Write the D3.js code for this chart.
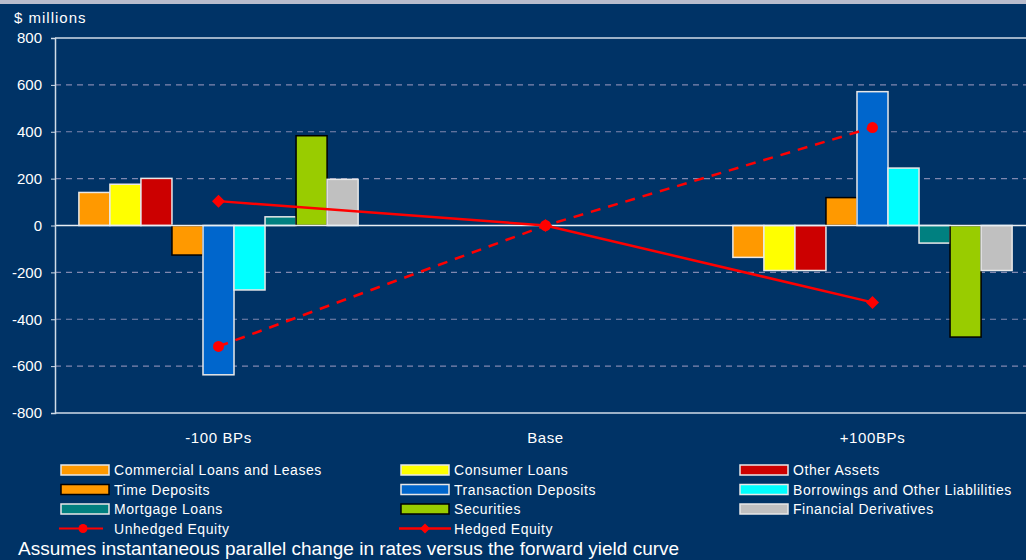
<!DOCTYPE html>
<html>
<head>
<meta charset="utf-8">
<script src="https://cdn.jsdelivr.net/npm/d3@7"></script>
<style>
  body { margin: 0; background: #003366; }
  svg { display: block; }
  text { font-family: "Liberation Sans", Arial, sans-serif; fill: #ffffff; }
</style>
</head>
<body>
<div id="chart"></div>
<script>
// categories and series
var categories = ["-100 BPs", "Base", "+100BPs"];
var seriesNames = [
  "Commercial Loans and Leases", "Consumer Loans", "Other Assets",
  "Time Deposits", "Transaction Deposits", "Borrowings and Other Liablilities",
  "Mortgage Loans", "Securities", "Financial Derivatives"
];
var seriesColors = ["#ff9900", "#ffff00", "#cc0000", "#ff9900", "#0066cc", "#00ffff", "#008080", "#99cc00", "#c0c0c0"];
var seriesBorders = ["#e8e8e8", "#e8e8e8", "#e8e8e8", "#000000", "#e8e8e8", "#e8e8e8", "#e8e8e8", "#000000", "#e8e8e8"];

// bar values per series, one per category ($ millions)
var commercialLoans = [141, 0, -136];
var consumerLoans = [176, 0, -192];
var otherAssets = [201, 0, -192];
var timeDeposits = [-126, 0, 119];
var transactionDeposits = [-637, 0, 571];
var borrowings = [-275, 0, 245];
var mortgageLoans = [37, 0, -75];
var securities = [383, 0, -476];
var derivatives = [197, 0, -192];
var seriesValues = [commercialLoans, consumerLoans, otherAssets, timeDeposits,
  transactionDeposits, borrowings, mortgageLoans, securities, derivatives];

// equity lines
var unhedgedEquity = [-516, 0, 418];
var hedgedEquity = [104, 0, -328];

var yTicks = [800, 600, 400, 200, 0, -200, -400, -600, -800];

var width = 1026, height = 560;
var plot = {left: 55, right: 1036, top: 38, bottom: 413};

var svg = d3.select("#chart").append("svg")
  .attr("width", width)
  .attr("height", height);

svg.append("rect")
  .attr("width", width).attr("height", height)
  .attr("fill", "#003366");

// light strip at very top
svg.append("rect")
  .attr("width", width).attr("height", 4)
  .attr("fill", "#b8bccc");

var x = d3.scaleBand()
  .domain(categories)
  .range([plot.left, plot.right])
  .padding(0);

var xInner = d3.scaleBand()
  .domain(d3.range(seriesNames.length))
  .range([0, x.bandwidth()])
  .paddingInner(0)
  .paddingOuter(0.77);

var y = d3.scaleLinear()
  .domain([-800, 800])
  .range([plot.bottom, plot.top]);

// gridlines
svg.append("g")
  .selectAll("line")
  .data(yTicks.filter(function(d) { return d != 0 && d != -800 && d != 800; }))
  .enter().append("line")
    .attr("x1", plot.left).attr("x2", plot.right)
    .attr("y1", function(d) { return y(d); })
    .attr("y2", function(d) { return y(d); })
    .attr("stroke", "#8088b0")
    .attr("stroke-width", 1.2)
    .attr("stroke-dasharray", "6,5");

// top border
svg.append("line")
  .attr("x1", plot.left).attr("x2", plot.right)
  .attr("y1", y(800)).attr("y2", y(800))
  .attr("stroke", "#d0dce8").attr("stroke-width", 1.5);

// bars
var groups = svg.append("g")
  .selectAll("g")
  .data(seriesValues)
  .enter().append("g");

groups.selectAll("rect")
  .data(function(vals, i) {
    return vals.map(function(v, j) { return {s: i, c: categories[j], v: v}; });
  })
  .enter().append("rect")
    .filter(function(d) { return d.v != 0; })
    .attr("x", function(d) { return x(d.c) + xInner(d.s); })
    .attr("width", xInner.bandwidth())
    .attr("y", function(d) { return y(Math.max(0, d.v)); })
    .attr("height", function(d) { return Math.abs(y(d.v) - y(0)); })
    .attr("fill", function(d) { return seriesColors[d.s]; })
    .attr("stroke", function(d) { return seriesBorders[d.s]; })
    .attr("stroke-width", 1.5);

// zero line
svg.append("line")
  .attr("x1", plot.left).attr("x2", plot.right)
  .attr("y1", y(0)).attr("y2", y(0))
  .attr("stroke", "#e8eef4").attr("stroke-width", 1.5);

// y axis
var yAxis = svg.append("g")
  .attr("transform", "translate(" + plot.left + ",0)")
  .call(d3.axisLeft(y).tickValues(yTicks).tickSize(4).tickPadding(9)
    .tickFormat(function(d) { return String(d); }));
yAxis.select(".domain").attr("stroke", "#d0dce8").attr("stroke-width", 1.5);
yAxis.selectAll(".tick line").attr("stroke", "#d0dce8");
yAxis.selectAll(".tick text")
  .attr("fill", "#ffffff")
  .style("font-size", "15px")
  .style("font-family", "'Liberation Sans', Arial, sans-serif");

// x axis line
svg.append("line")
  .attr("x1", plot.left).attr("x2", plot.right)
  .attr("y1", y(-800)).attr("y2", y(-800))
  .attr("stroke", "#d0dce8").attr("stroke-width", 1.5);

// x labels
svg.append("g")
  .selectAll("text")
  .data(categories)
  .enter().append("text")
    .attr("x", function(d) { return x(d) + x.bandwidth() / 2; })
    .attr("y", 443)
    .attr("text-anchor", "middle")
    .style("font-size", "15px")
    .style("letter-spacing", "0.6px")
    .text(function(d) { return d; });

svg.append("text")
  .attr("x", 14).attr("y", 23)
  .style("font-size", "15px")
  .style("letter-spacing", "1px")
  .text("$ millions");

// equity lines
var line = d3.line()
  .x(function(d, i) { return x(categories[i]) + x.bandwidth() / 2; })
  .y(function(d) { return y(d); });

svg.append("path")
  .datum(unhedgedEquity)
  .attr("d", line)
  .attr("fill", "none")
  .attr("stroke", "#ff0000")
  .attr("stroke-width", 2.5)
  .attr("stroke-dasharray", "10,8");

svg.append("g")
  .selectAll("circle")
  .data(unhedgedEquity)
  .enter().append("circle")
    .attr("cx", function(d, i) { return x(categories[i]) + x.bandwidth() / 2; })
    .attr("cy", function(d) { return y(d); })
    .attr("r", 5.5)
    .attr("fill", "#ff0000");

svg.append("path")
  .datum(hedgedEquity)
  .attr("d", line)
  .attr("fill", "none")
  .attr("stroke", "#ff0000")
  .attr("stroke-width", 2.5);

// square diamond marker
var diamond = "M0,-6.5L6.5,0L0,6.5L-6.5,0Z";
svg.append("g")
  .selectAll("path")
  .data(hedgedEquity)
  .enter().append("path")
    .attr("d", diamond)
    .attr("transform", function(d, i) {
      return "translate(" + (x(categories[i]) + x.bandwidth() / 2) + "," + y(d) + ")";
    })
    .attr("fill", "#ff0000");

// legend
var legendCols = [61, 401, 740];
var legendRows = [470, 489.5, 509, 528.5];
var legendItems = seriesNames.map(function(n, i) {
  return {name: n, type: "bar", color: seriesColors[i], border: seriesBorders[i]};
});
legendItems.push({name: "Unhedged Equity", type: "unhedged"});
legendItems.push({name: "Hedged Equity", type: "hedged"});

var legend = svg.append("g")
  .selectAll("g")
  .data(legendItems)
  .enter().append("g")
    .attr("transform", function(d, i) {
      return "translate(" + legendCols[i % 3] + "," + legendRows[Math.floor(i / 3)] + ")";
    });

legend.filter(function(d) { return d.type == "bar"; })
  .append("rect")
    .attr("x", 0).attr("y", -5)
    .attr("width", 48).attr("height", 10)
    .attr("fill", function(d) { return d.color; })
    .attr("stroke", function(d) { return d.border; })
    .attr("stroke-width", 1.5);

legend.filter(function(d) { return d.type == "unhedged"; })
  .append("line")
    .attr("x1", -2).attr("x2", 42)
    .attr("stroke", "#ff0000")
    .attr("stroke-width", 2);

legend.filter(function(d) { return d.type == "unhedged"; })
  .append("circle")
    .attr("cx", 22).attr("r", 4.5)
    .attr("fill", "#ff0000");

legend.filter(function(d) { return d.type == "hedged"; })
  .append("line")
    .attr("x1", -2).attr("x2", 50)
    .attr("stroke", "#ff0000")
    .attr("stroke-width", 2.5);

legend.filter(function(d) { return d.type == "hedged"; })
  .append("path")
    .attr("d", "M0,-5L5,0L0,5L-5,0Z")
    .attr("transform", "translate(24,0)")
    .attr("fill", "#ff0000");

legend.append("text")
  .attr("x", 53)
  .attr("y", 5)
  .style("font-size", "14px")
  .style("letter-spacing", "0.55px")
  .text(function(d) { return d.name; });

svg.append("text")
  .attr("x", 18).attr("y", 555)
  .style("font-size", "19px")
  .text("Assumes instantaneous parallel change in rates versus the forward yield curve");
</script>
</body>
</html>
